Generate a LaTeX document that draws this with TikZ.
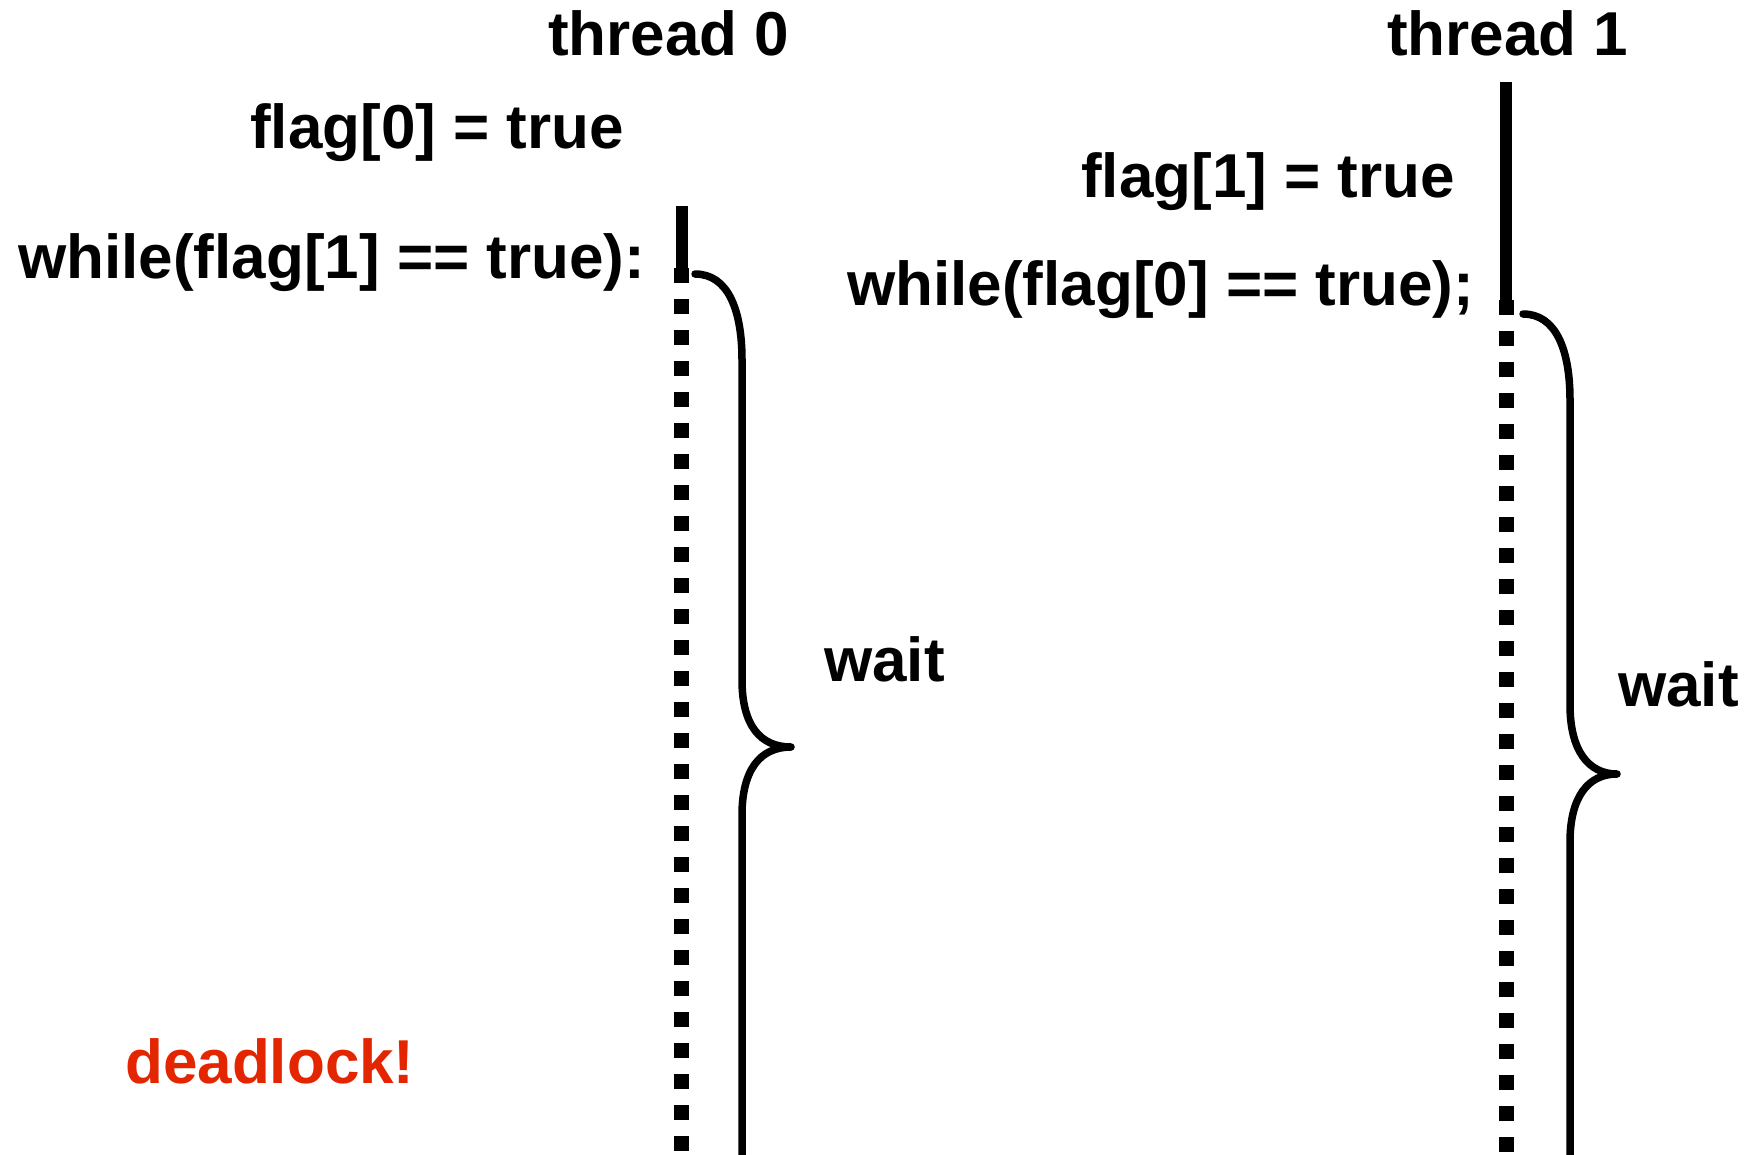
\documentclass[tikz,border=0pt]{standalone}
\usepackage{fontspec}
\setmainfont{Liberation Sans}
\definecolor{alarm}{RGB}{228,38,0}
\begin{document}
\begin{tikzpicture}[x=1pt,y=-1pt,
  lbl/.style={font=\fontsize{62}{70}\selectfont\bfseries, anchor=base west, inner sep=0pt},
  solidbar/.style={line width=12pt},
  waitline/.style={line width=15pt, dash pattern=on 15pt off 16pt},
  bracket/.style={line width=7.5pt, line cap=round, line join=round}]
\clip (0,0) rectangle (1751,1154);
\fill[white] (0,0) rectangle (1751,1154);

% thread headers and statements
\node[lbl] (t0) at (548,55) {thread 0};
\node[lbl] (t1) at (1387,55) {thread 1};
\node[lbl] (f0) at (250,148) {flag[0] = true};
\node[lbl] (w0) at (18,278) {while(flag[1] == true):};
\node[lbl] (f1) at (1081,197) {flag[1] = true};
\node[lbl] (w1) at (847,305) {while(flag[0] == true);};
\node[lbl] (wait0) at (824,681) {wait};
\node[lbl] (wait1) at (1618,706) {wait};
\node[lbl, text=alarm] (dl) at (125,1083) {deadlock!};

% timeline of thread 0
\coordinate (a0) at (681.5,206);
\coordinate (b0) at (681.5,268);
\coordinate (c0) at (681.5,1170);
\draw[solidbar] (a0) -- (b0);
\draw[waitline] (b0) -- (c0);

% timeline of thread 1
\coordinate (a1) at (1506,82);
\coordinate (b1) at (1506,300);
\coordinate (c1) at (1506,1170);
\draw[solidbar] (a1) -- (b1);
\draw[waitline] (b1) -- (c1);

% waiting braces
\draw[bracket] (695,274) .. controls (728,274) and (742,310) .. (742,360)
  -- (742,680) .. controls (742,725) and (760,747) .. (791,747)
  .. controls (760,747) and (742,770) .. (742,815) -- (742,1170);
\draw[bracket] (1523,314) .. controls (1556,314) and (1570,350) .. (1570,400)
  -- (1570,705) .. controls (1570,750) and (1588,774) .. (1617,774)
  .. controls (1588,774) and (1570,797) .. (1570,842) -- (1570,1170);
\end{tikzpicture}
\end{document}
